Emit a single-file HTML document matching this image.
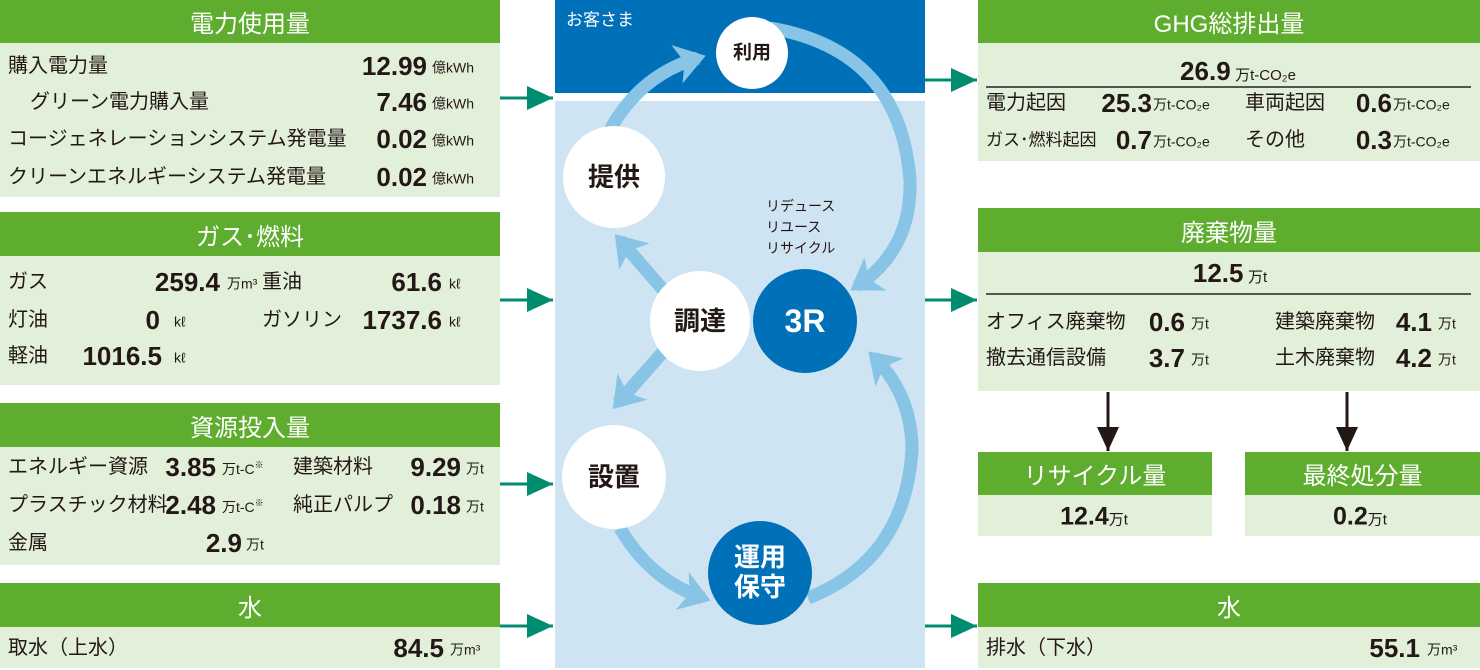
<!DOCTYPE html>
<html><head><meta charset="utf-8">
<style>
*{margin:0;padding:0;box-sizing:border-box}
body{width:1480px;height:670px;background:#fff;position:relative;overflow:hidden;font-family:"Liberation Sans","Noto Sans CJK JP",sans-serif;color:#231815}
.hd{position:absolute;background:#5fad2f;color:#fff;font-size:24px;text-align:center;display:flex;align-items:center;justify-content:center}
.bd{position:absolute;background:#e2efd9}
.t{position:absolute;font-size:20px;white-space:nowrap;line-height:1;transform:translateY(-50%)}
.v{position:absolute;font-size:26px;font-weight:bold;white-space:nowrap;line-height:1;transform:translate(-100%,-50%)}
.u{position:absolute;font-size:14px;white-space:nowrap;line-height:1;transform:translateY(-40%)}
.c{position:absolute;white-space:nowrap;line-height:1;transform:translate(-50%,-50%)}
.line{position:absolute;height:1.5px;background:#555}
</style></head><body>

<!-- LEFT -->
<div class="hd" style="left:0;top:0;width:500px;height:43px">電力使用量</div>
<div class="bd" style="left:0;top:43px;width:500px;height:154px"></div>
<div class="t" style="left:8px;top:66px">購入電力量</div>
<div class="t" style="left:30px;top:102px">グリーン電力購入量</div>
<div class="t" style="left:8px;top:139px">コージェネレーションシステム発電量</div>
<div class="t" style="left:8px;top:177px">クリーンエネルギーシステム発電量</div>
<div class="v" style="left:427px;top:66px">12.99</div>
<div class="v" style="left:427px;top:102px">7.46</div>
<div class="v" style="left:427px;top:139px">0.02</div>
<div class="v" style="left:427px;top:177px">0.02</div>
<div class="u" style="left:432px;top:66px">億kWh</div>
<div class="u" style="left:432px;top:102px">億kWh</div>
<div class="u" style="left:432px;top:139px">億kWh</div>
<div class="u" style="left:432px;top:177px">億kWh</div>

<div class="hd" style="left:0;top:212px;width:500px;height:44px">ガス･燃料</div>
<div class="bd" style="left:0;top:256px;width:500px;height:129px"></div>
<div class="t" style="left:8px;top:282px">ガス</div>
<div class="t" style="left:8px;top:320px">灯油</div>
<div class="t" style="left:8px;top:356px">軽油</div>
<div class="v" style="left:220px;top:282px">259.4</div>
<div class="v" style="left:160px;top:320px">0</div>
<div class="v" style="left:162px;top:356px">1016.5</div>
<div class="u" style="left:227px;top:282px">万m³</div>
<div class="u" style="left:174px;top:320px">kℓ</div>
<div class="u" style="left:174px;top:356px">kℓ</div>
<div class="t" style="left:262px;top:282px">重油</div>
<div class="t" style="left:262px;top:320px">ガソリン</div>
<div class="v" style="left:442px;top:282px">61.6</div>
<div class="v" style="left:442px;top:320px">1737.6</div>
<div class="u" style="left:449px;top:282px">kℓ</div>
<div class="u" style="left:449px;top:320px">kℓ</div>

<div class="hd" style="left:0;top:403px;width:500px;height:44px">資源投入量</div>
<div class="bd" style="left:0;top:447px;width:500px;height:118px"></div>
<div class="t" style="left:8px;top:467px">エネルギー資源</div>
<div class="t" style="left:8px;top:505px">プラスチック材料</div>
<div class="t" style="left:8px;top:543px">金属</div>
<div class="v" style="left:216px;top:467px">3.85</div>
<div class="v" style="left:216px;top:505px">2.48</div>
<div class="v" style="left:242px;top:543px">2.9</div>
<div class="u" style="left:222px;top:467px">万t-C<sup style="font-size:9px">※</sup></div>
<div class="u" style="left:222px;top:505px">万t-C<sup style="font-size:9px">※</sup></div>
<div class="u" style="left:246px;top:543px">万t</div>
<div class="t" style="left:293px;top:467px">建築材料</div>
<div class="t" style="left:293px;top:505px">純正パルプ</div>
<div class="v" style="left:461px;top:467px">9.29</div>
<div class="v" style="left:461px;top:505px">0.18</div>
<div class="u" style="left:466px;top:467px">万t</div>
<div class="u" style="left:466px;top:505px">万t</div>

<div class="hd" style="left:0;top:583px;width:500px;height:44px">水</div>
<div class="bd" style="left:0;top:627px;width:500px;height:41px"></div>
<div class="t" style="left:8px;top:648px">取水（上水）</div>
<div class="v" style="left:444px;top:648px">84.5</div>
<div class="u" style="left:450px;top:648px">万m³</div>

<!-- CENTER -->
<div style="position:absolute;left:555px;top:0;width:370px;height:93px;background:#0070b9"></div>
<div style="position:absolute;left:555px;top:101px;width:370px;height:567px;background:#cfe4f2"></div>
<div class="t" style="left:566px;top:20px;color:#fff;font-size:17px">お客さま</div>

<svg width="1480" height="670" style="position:absolute;left:0;top:0">
<defs>
<marker id="ha" markerUnits="userSpaceOnUse" markerWidth="50" markerHeight="50" refX="22" refY="20" orient="auto"><path d="M0,0 L30,20 L0,40 L8,20 Z" fill="#88c4e5"/></marker>
<marker id="tg" markerUnits="userSpaceOnUse" markerWidth="30" markerHeight="30" refX="26" refY="12" orient="auto"><path d="M0,0 L26,12 L0,24 Z" fill="#008c6e"/></marker>
<marker id="bk" markerUnits="userSpaceOnUse" markerWidth="30" markerHeight="30" refX="24" refY="11" orient="auto"><path d="M0,0 L24,11 L0,22 Z" fill="#231815"/></marker>
</defs>
<g fill="none" stroke="#88c4e5" stroke-width="13">
<path d="M610,130 Q640,75 698,58" marker-end="url(#ha)"/>
<path d="M770,28 Q900,50 910,180 Q912,250 857,286" marker-end="url(#ha)"/>
<path d="M808,598 Q905,560 912,450 Q912,395 874,357" marker-end="url(#ha)"/>
<path d="M665,292 L620,240" marker-end="url(#ha)"/>
<path d="M663,352 L618,403" marker-end="url(#ha)"/>
<path d="M620,528 Q650,580 703,598" marker-end="url(#ha)"/>
</g>
<g stroke="#008c6e" stroke-width="3" fill="none">
<path d="M500,98 L553,98" marker-end="url(#tg)"/>
<path d="M500,300 L553,300" marker-end="url(#tg)"/>
<path d="M500,484 L553,484" marker-end="url(#tg)"/>
<path d="M500,626 L553,626" marker-end="url(#tg)"/>
<path d="M925,80 L977,80" marker-end="url(#tg)"/>
<path d="M925,300 L977,300" marker-end="url(#tg)"/>
<path d="M925,626 L977,626" marker-end="url(#tg)"/>
</g>
<g stroke="#231815" stroke-width="3">
<path d="M1108,392 L1108,451" marker-end="url(#bk)"/>
<path d="M1347,392 L1347,451" marker-end="url(#bk)"/>
</g>
<circle cx="752" cy="53" r="36" fill="#fff"/>
<circle cx="614" cy="177" r="51" fill="#fff"/>
<circle cx="700" cy="321" r="50" fill="#fff"/>
<circle cx="805" cy="321" r="52" fill="#0070b9"/>
<circle cx="614" cy="477" r="52" fill="#fff"/>
<circle cx="760" cy="573" r="52" fill="#0070b9"/>
</svg>
<div class="c" style="left:752px;top:53px;font-size:19px;font-weight:bold">利用</div>
<div class="c" style="left:614px;top:177px;font-size:26px;font-weight:bold">提供</div>
<div class="c" style="left:700px;top:321px;font-size:26px;font-weight:bold">調達</div>
<div class="c" style="left:805px;top:321px;font-size:32px;font-weight:bold;color:#fff">3R</div>
<div class="c" style="left:614px;top:477px;font-size:26px;font-weight:bold">設置</div>
<div class="c" style="left:760px;top:573px;font-size:26px;font-weight:bold;color:#fff;text-align:center;line-height:1.15">運用<br>保守</div>
<div style="position:absolute;left:766px;top:196px;font-size:14px;line-height:21px">リデュース<br>リユース<br>リサイクル</div>

<!-- RIGHT -->
<div class="hd" style="left:978px;top:0;width:502px;height:43px">GHG総排出量</div>
<div class="bd" style="left:978px;top:43px;width:502px;height:118px"></div>
<div class="c" style="left:1238px;top:71px"><b style="font-size:26px">26.9</b> <span style="font-size:15px">万t-CO₂e</span></div>
<div class="line" style="left:986px;top:86px;width:485px"></div>
<div class="t" style="left:986px;top:103px">電力起因</div>
<div class="t" style="left:986px;top:140px;font-size:17px">ガス･燃料起因</div>
<div class="v" style="left:1152px;top:103px">25.3</div>
<div class="v" style="left:1152px;top:140px">0.7</div>
<div class="u" style="left:1153px;top:103px">万t-CO₂e</div>
<div class="u" style="left:1153px;top:140px">万t-CO₂e</div>
<div class="t" style="left:1245px;top:103px">車両起因</div>
<div class="t" style="left:1245px;top:140px">その他</div>
<div class="v" style="left:1392px;top:103px">0.6</div>
<div class="v" style="left:1392px;top:140px">0.3</div>
<div class="u" style="left:1393px;top:103px">万t-CO₂e</div>
<div class="u" style="left:1393px;top:140px">万t-CO₂e</div>

<div class="hd" style="left:978px;top:208px;width:502px;height:44px">廃棄物量</div>
<div class="bd" style="left:978px;top:252px;width:502px;height:139px"></div>
<div class="c" style="left:1230px;top:273px"><b style="font-size:26px">12.5</b> <span style="font-size:15px">万t</span></div>
<div class="line" style="left:986px;top:293px;width:485px"></div>
<div class="t" style="left:986px;top:322px">オフィス廃棄物</div>
<div class="t" style="left:986px;top:358px">撤去通信設備</div>
<div class="v" style="left:1185px;top:322px">0.6</div>
<div class="v" style="left:1185px;top:358px">3.7</div>
<div class="u" style="left:1191px;top:322px">万t</div>
<div class="u" style="left:1191px;top:358px">万t</div>
<div class="t" style="left:1275px;top:322px">建築廃棄物</div>
<div class="t" style="left:1275px;top:358px">土木廃棄物</div>
<div class="v" style="left:1432px;top:322px">4.1</div>
<div class="v" style="left:1432px;top:358px">4.2</div>
<div class="u" style="left:1438px;top:322px">万t</div>
<div class="u" style="left:1438px;top:358px">万t</div>

<div class="hd" style="left:978px;top:452px;width:234px;height:43px">リサイクル量</div>
<div class="bd" style="left:978px;top:495px;width:234px;height:41px"></div>
<div class="c" style="left:1094px;top:517px"><b style="font-size:25px">12.4</b><span style="font-size:15px">万t</span></div>
<div class="hd" style="left:1245px;top:452px;width:235px;height:43px">最終処分量</div>
<div class="bd" style="left:1245px;top:495px;width:235px;height:41px"></div>
<div class="c" style="left:1360px;top:517px"><b style="font-size:25px">0.2</b><span style="font-size:15px">万t</span></div>

<div class="hd" style="left:978px;top:583px;width:502px;height:44px">水</div>
<div class="bd" style="left:978px;top:627px;width:502px;height:41px"></div>
<div class="t" style="left:986px;top:648px">排水（下水）</div>
<div class="v" style="left:1420px;top:648px">55.1</div>
<div class="u" style="left:1427px;top:648px">万m³</div>
</body></html>
